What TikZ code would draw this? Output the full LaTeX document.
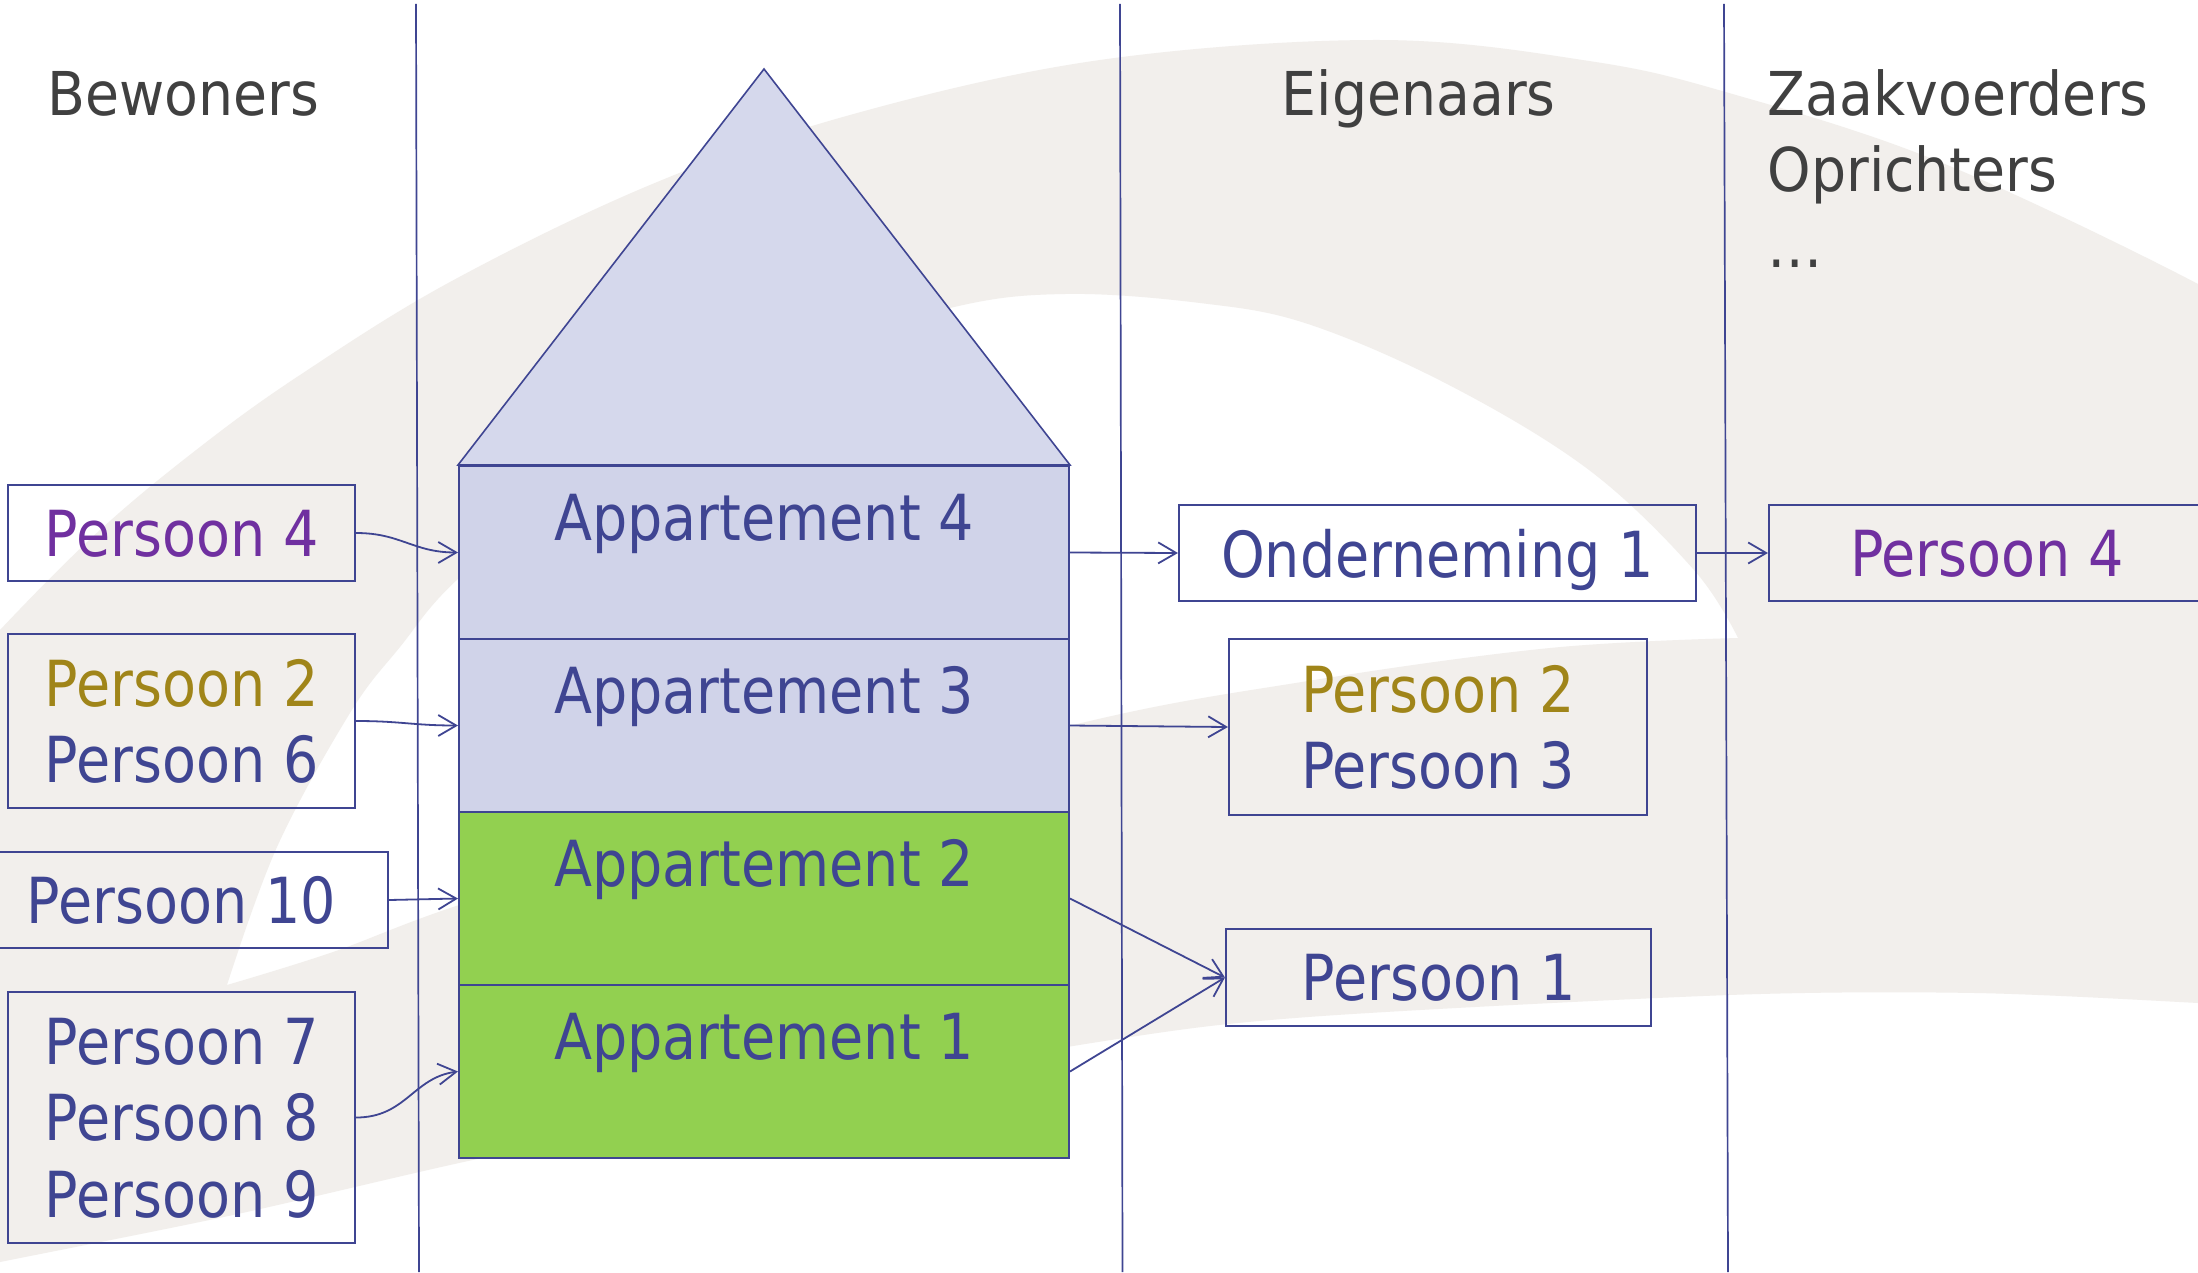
\documentclass[tikz,border=0pt]{standalone}
\usepackage{fontspec}
\usetikzlibrary{arrows.meta}

% narrow humanist sans for all lettering
\newfontfamily\apfamily[FakeStretch=0.875]{DejaVu Sans}
\newfontfamily\hdfamily[FakeStretch=0.915]{DejaVu Sans}
\newcommand{\aptext}{\apfamily\fontsize{18.07pt}{21.76pt}\selectfont}
\newcommand{\hdtext}{\hdfamily\fontsize{17.2pt}{21.6pt}\selectfont}

\definecolor{navy}{HTML}{3F4592}
\definecolor{plum}{HTML}{7030A0}
\definecolor{ochre}{HTML}{A08519}
\definecolor{headgray}{HTML}{404040}
\definecolor{roofblue}{HTML}{D5D8EC}
\definecolor{flatblue}{HTML}{D0D3E9}
\definecolor{flatgreen}{HTML}{92D050}
\definecolor{swoosh}{HTML}{F2EFEC}

\begin{document}
\begin{tikzpicture}[x=0.1mm, y=-0.1mm,
  person/.style={draw=navy, line width=0.21mm, rectangle, inner sep=0pt,
    text depth=0pt, align=center, text=navy, font=\aptext},
  flat/.style={draw=navy, line width=0.2mm, rectangle, inner sep=0pt,
    minimum width=61mm, minimum height=17.3mm},
  flatlabel/.style={anchor=base, inner sep=0pt, text=navy, font=\aptext},
  heading/.style={anchor=base west, inner sep=0pt, text=headgray, font=\hdtext},
  link/.style={draw=navy, line width=0.18mm,
    -{Straight Barb[length=1.8mm, width=2.1mm]}},
  divider/.style={draw=navy, line width=0.17mm}]

\useasboundingbox (0,0) rectangle (2198,1272);
\clip (0,0) rectangle (2198,1272);
\fill[white] (0,0) rectangle (2198,1272);

% light background swoosh: a wide arc with a band below, hollow inside
\fill[swoosh, even odd rule]
  plot[smooth, tension=0.6] coordinates {(-60,700) (0,630) (100,530) (200,447)
    (300,375) (450,282) (650,185) (850,115) (1100,60) (1379,40) (1589,61)
    (1729,93) (1940,162) (2198,284) (2260,330)}
  -- (2260,1008)
  -- plot[smooth, tension=0.5] coordinates {(2260,1008) (2198,1003) (1975,993)
    (1729,995) (1308,1017) (1098,1042) (700,1112) (459,1163) (233,1215)
    (0,1262) (-60,1274)}
  -- cycle
  plot[smooth, tension=0.6] coordinates {(227,985) (277,847) (350,713) (400,647)
    (460,577) (600,462) (780,362) (950,308) (1065,294) (1200,303) (1308,324)
    (1449,385) (1589,470) (1694,570) (1738,638)}
  -- plot[smooth, tension=0.6] coordinates {(1738,638) (1550,648) (1308,681)
    (1069,726) (700,830) (459,905) (333,952) (227,985)}
  -- cycle;

% column dividers
\draw[divider] (416,4) -- (419,1272);
\draw[divider] (1120,4) -- (1122.5,1272);
\draw[divider] (1724,4) -- (1728,1272);

% the building: four flats under a roof
\node[flat, fill=flatblue]  (a4) at (764,552.5)  {};
\node[flat, fill=flatblue]  (a3) at (764,725.5)  {};
\node[flat, fill=flatgreen] (a2) at (764,898.5)  {};
\node[flat, fill=flatgreen] (a1) at (764,1071.5) {};
\coordinate (apex) at (764,69);
\filldraw[fill=roofblue, draw=navy, line width=0.16mm]
  (a4.north west) -- (apex) -- (a4.north east) -- cycle;

\node[flatlabel] (a4t) at (764,540)  {Appartement 4};
\node[flatlabel] (a3t) at (764,713)  {Appartement 3};
\node[flatlabel] (a2t) at (764,886)  {Appartement 2};
\node[flatlabel] (a1t) at (764,1059) {Appartement 1};

% column headings
\node[heading] (hb) at (47,116)   {Bewoners};
\node[heading] (he) at (1281,116) {Eigenaars};
\node[heading] (hz) at (1767,116) {Zaakvoerders};
\node[heading] (ho) at (1767,192) {Oprichters};
\node[heading] (hd) at (1767,268) {…};

% residents
\node[person, minimum width=34.7mm, minimum height=9.6mm]  (l4)   at (181.5,533)    {\textcolor{plum}{Persoon 4}};
\node[person, minimum width=34.7mm, minimum height=17.4mm] (l26)  at (181.5,721)    {\textcolor{ochre}{Persoon 2}\\Persoon 6};
\node[person, minimum width=41.3mm, minimum height=9.6mm]  (l10)  at (181.5,900)    {Persoon 10};
\node[person, minimum width=34.7mm, minimum height=25.1mm] (l789) at (181.5,1117.5) {Persoon 7\\Persoon 8\\Persoon 9};

% owners
\node[person, minimum width=51.7mm, minimum height=9.6mm]  (o1)  at (1437.5,553) {Onderneming 1};
\node[person, minimum width=41.8mm, minimum height=17.6mm] (p23) at (1438,727)   {\textcolor{ochre}{Persoon 2}\\Persoon 3};
\node[person, minimum width=42.5mm, minimum height=9.7mm]  (p1)  at (1438.5,977.5) {Persoon 1};

% managers / founders
\node[person, minimum width=43.6mm, minimum height=9.6mm]  (r4)  at (1987,553) {\textcolor{plum}{Persoon 4}};

% residents -> flats
\draw[link] (l4.east)   .. controls +(45,0) and +(-45,0) .. (a4.west);
\draw[link] (l26.east)  .. controls +(45,0) and +(-45,0) .. (a3.west);
\draw[link] (l10.east)  -- (a2.west);
\draw[link] (l789.east) .. controls +(50,0) and +(-45,6) .. (a1.west);

% flats -> owners
\draw[link] (a4.east) -- (o1.west);
\draw[link] (a3.east) -- (p23.west);
\draw[link] (a2.east) -- (p1.west);
\draw[link] (a1.east) -- (p1.west);

% company -> manager
\draw[link] (o1.east) -- (r4.west);
\end{tikzpicture}
\end{document}
